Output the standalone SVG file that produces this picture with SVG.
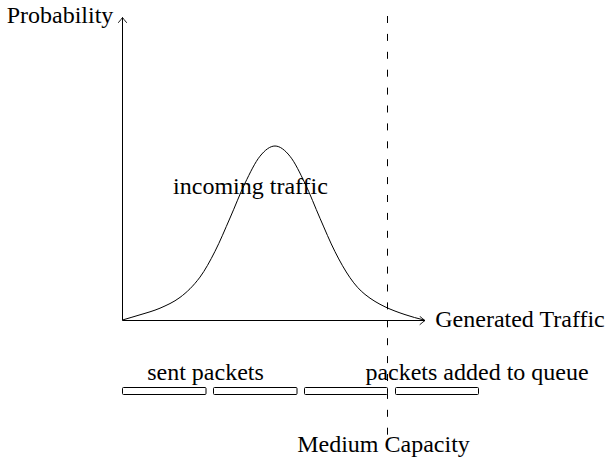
<svg xmlns="http://www.w3.org/2000/svg" width="605" height="468" viewBox="0 0 605 468">
  <style>
    .ln { fill: none; stroke: #000; stroke-width: 1; }
    .lbl { font-family: "Liberation Serif", "Times New Roman", serif; font-size: 24px; fill: #000; text-anchor: middle; }
    .pkt { fill: #fff; stroke: #000; stroke-width: 1; }
    .dash { fill: none; stroke: #000; stroke-width: 1; stroke-dasharray: 7 10.9; }
  </style>
  <defs>
    <marker id="arr" viewBox="-6 -5 7 10" refX="0" refY="0" markerWidth="7" markerHeight="10" markerUnits="userSpaceOnUse" orient="auto">
      <path d="M-5,-4 Q-1.5,-1 0,0 Q-1.5,1 -5,4" fill="none" stroke="#000" stroke-width="0.9" stroke-linecap="round"/>
    </marker>
  </defs>
  <rect width="605" height="468" fill="#fff"/>

  <g id="connectors">
    <line id="y-axis" class="ln" x1="122.5" y1="320.5" x2="122.5" y2="17.5" marker-end="url(#arr)"/>
    <line id="x-axis" class="ln" x1="122.5" y1="320.5" x2="425" y2="320.5" marker-end="url(#arr)"/>
    <path id="curve" class="ln" d="M122.5,320 C128,318.2 134,316.8 140,314.8 C146.67,312.8 153.33,311 160,308.2 C166.67,305.2 173.33,302.4 180,297.4 C186.67,292.4 193.33,286.1 200,277.1 C205,270.3 210,261.2 215,251.3 C220,241.5 225,229.4 230,218 C235,206.7 240,193.5 245,183.2 C250,172.9 255,162.4 260,156.2 C265,150 270,146 275,146 C280,146 285,150.1 290,156.3 C295,162.5 300,173.1 305,183.4 C310,193.7 315,206.9 320,218.3 C325,229.7 330,241.8 335,251.7 C340,261.6 345,270.5 350,277.7 C355,285 360,290.4 365,294.4 C371.67,299.8 378.33,303.6 385,306.8 C391.67,310 398.33,312.4 405,314.6 C411.33,316.8 417.67,318.4 424,320"/>
    <line id="capacity-line" class="dash" x1="387.5" y1="16" x2="387.5" y2="436"/>
  </g>

  <g id="probability-label"><text class="lbl" x="60" y="23">Probability</text></g>
  <g id="generated-traffic-label"><text class="lbl" x="520" y="327">Generated Traffic</text></g>
  <g id="incoming-traffic-label"><text class="lbl" x="250.5" y="194">incoming traffic</text></g>
  <g id="sent-packets-label"><text class="lbl" x="205.5" y="380">sent packets</text></g>
  <g id="queue-label"><text class="lbl" x="477" y="380">packets added to queue</text></g>
  <g id="medium-capacity-label"><text class="lbl" x="383.5" y="452">Medium Capacity</text></g>

  <g id="packet-1"><rect class="pkt" x="122.5" y="387.5" width="83.5" height="7" rx="1"/></g>
  <g id="packet-2"><rect class="pkt" x="213.5" y="387.5" width="83.5" height="7" rx="1"/></g>
  <g id="packet-3"><rect class="pkt" x="304.5" y="387.5" width="83" height="7" rx="1"/></g>
  <g id="packet-4"><rect class="pkt" x="395.5" y="387.5" width="83" height="7" rx="1"/></g>
</svg>
